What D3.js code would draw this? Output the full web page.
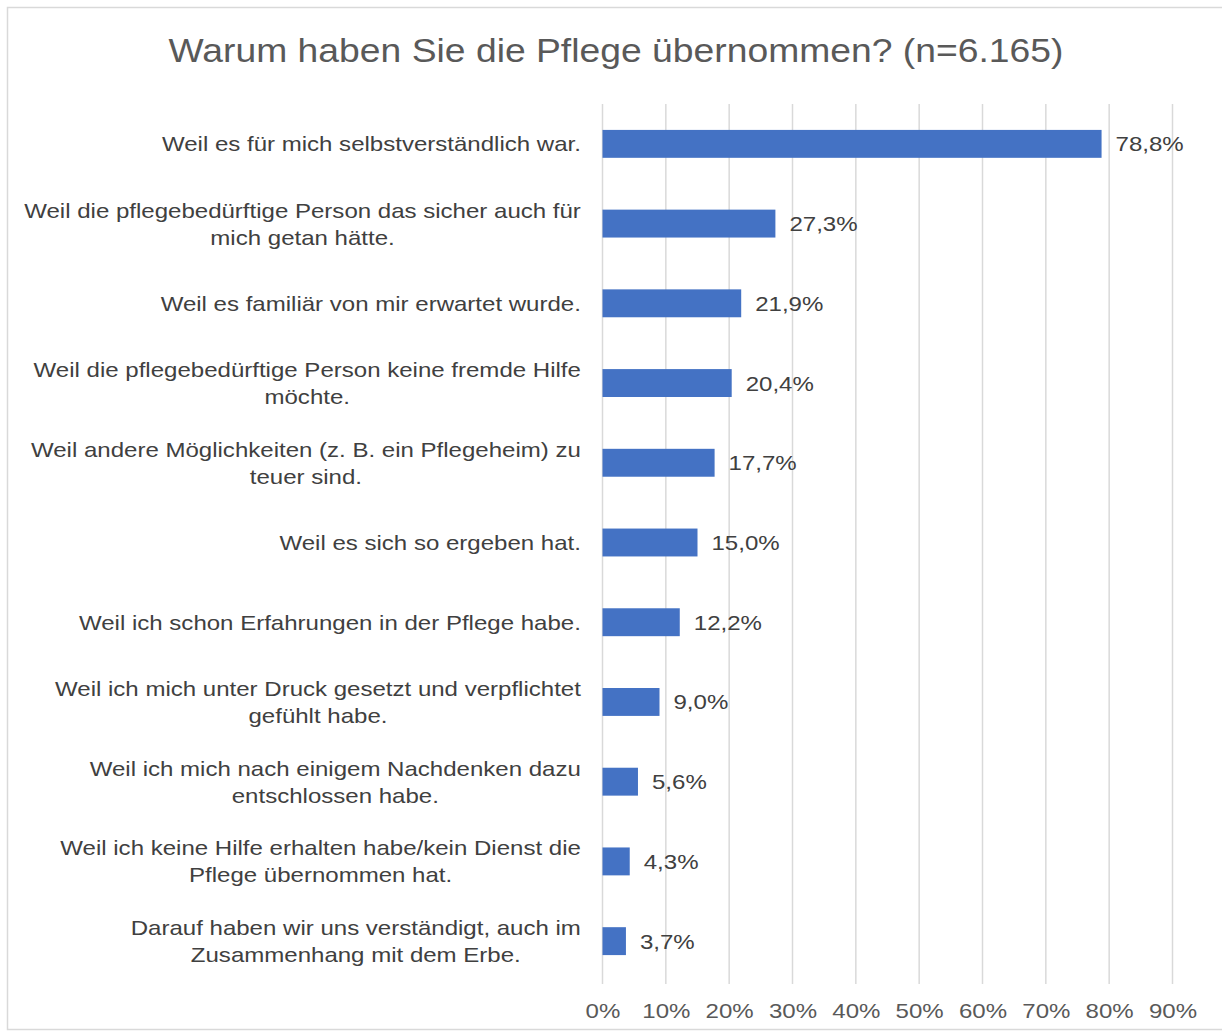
<!DOCTYPE html>
<html><head><meta charset="utf-8">
<script src="https://cdn.jsdelivr.net/npm/d3@7"></script>
<style>body{margin:0;background:#fff;} svg text{font-family:"Liberation Sans",Arial,Helvetica,sans-serif;}</style>
</head><body>
<svg id="chart" width="1222" height="1034" font-family="Liberation Sans, Arial, sans-serif"></svg>
<script>
const categories = [
  ["Weil es für mich selbstverständlich war."],
  ["Weil die pflegebedürftige Person das sicher auch für","mich getan hätte."],
  ["Weil es familiär von mir erwartet wurde."],
  ["Weil die pflegebedürftige Person keine fremde Hilfe","möchte."],
  ["Weil andere Möglichkeiten (z. B. ein Pflegeheim) zu","teuer sind."],
  ["Weil es sich so ergeben hat."],
  ["Weil ich schon Erfahrungen in der Pflege habe."],
  ["Weil ich mich unter Druck gesetzt und verpflichtet","gefühlt habe."],
  ["Weil ich mich nach einigem Nachdenken dazu","entschlossen habe."],
  ["Weil ich keine Hilfe erhalten habe/kein Dienst die","Pflege übernommen hat."],
  ["Darauf haben wir uns verständigt, auch im","Zusammenhang mit dem Erbe."]
];
const values = [78.8, 27.3, 21.9, 20.4, 17.7, 15.0, 12.2, 9.0, 5.6, 4.3, 3.7];
const tickValues = [0,10,20,30,40,50,60,70,80,90];
const title = "Warum haben Sie die Pflege übernommen? (n=6.165)";

const SX = 1.145;  // horizontal text stretch seen in the reference
const FS = 21;

const svg = d3.select("#chart");
svg.append("rect").attr("x",7.5).attr("y",7.5).attr("width",1222).attr("height",1022)
  .attr("fill","#fff").attr("stroke","#d9d9d9").attr("stroke-width",1.5);

svg.append("text").attr("transform","translate(616,62) scale(1.13,1)").attr("text-anchor","middle")
  .attr("font-size",33).attr("fill","#595959").text(title);

const x = d3.scaleLinear().domain([0,90]).range([602.5,1172.5]);
const y = d3.scaleBand().domain(d3.range(categories.length)).range([104,981]).paddingInner(0.65).paddingOuter(0.325);

// gridlines
svg.append("g").selectAll("line").data(tickValues).join("line")
  .attr("x1",d=>x(d)).attr("x2",d=>x(d)).attr("y1",104).attr("y2",984)
  .attr("stroke","#d9d9d9").attr("stroke-width",1.5);

// axis labels
const xAxis = d3.axisBottom(x).tickValues(tickValues).tickFormat(d=>d+"%").tickSize(0).tickPadding(0);
const ax = svg.append("g").attr("transform","translate(0,1018)").call(xAxis);
ax.select(".domain").remove();
ax.selectAll("text").attr("font-size",FS).attr("fill","#595959")
  .attr("font-family","Liberation Sans, Arial, sans-serif").attr("dy",0).attr("y",0)
  .attr("transform",`scale(${SX},1)`);

// bars
svg.append("g").selectAll("rect").data(values).join("rect")
  .attr("x",x(0)).attr("y",(d,i)=>y(i)).attr("width",d=>x(d)-x(0)).attr("height",y.bandwidth())
  .attr("fill","#4472c4");

// value labels
svg.append("g").selectAll("text").data(values).join("text")
  .attr("transform",(d,i)=>`translate(${x(d)+14},${y(i)+y.bandwidth()/2+7.5}) scale(${SX},1)`)
  .attr("font-size",FS).attr("fill","#404040")
  .text(d=>d.toFixed(1).replace(".",",")+"%");

// category labels
const lh = 27;
categories.forEach((lines,i)=>{
  const cy = y(i)+y.bandwidth()/2;
  const g = svg.append("g");
  const texts = lines.map((l,j)=>g.append("text").attr("font-size",FS).attr("fill","#404040")
     .attr("text-anchor","middle").text(l));
  const maxW = d3.max(texts, t=>t.node().getComputedTextLength()) * SX;
  texts.forEach((t,j)=>t.attr("transform",
     `translate(${581 - maxW/2},${cy + (j-(lines.length-1)/2)*lh + 7.5}) scale(${SX},1)`));
});
</script>
</body></html>
